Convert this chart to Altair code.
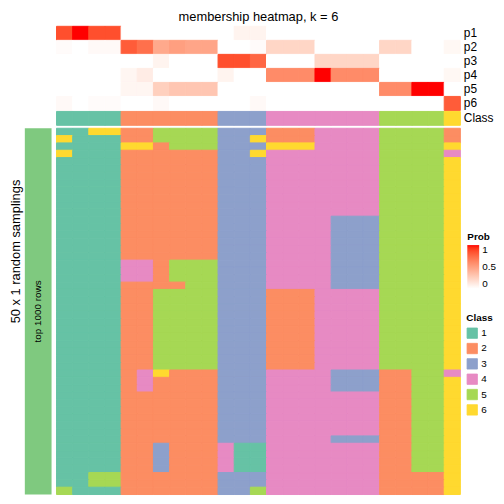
import altair as alt
import pandas as pd

TITLE = "membership heatmap, k = 6"
FONT = "Liberation Sans"

ROW_NAMES = ["p1", "p2", "p3", "p4", "p5", "p6"]
P1 = [0.85, 1.0, 0.85, 0.85, 0, 0, 0, 0, 0, 0, 0, 0.06, 0.06, 0, 0, 0, 0, 0, 0, 0, 0, 0, 0, 0, 0]
P2 = [0.02, 0, 0.03, 0.03, 0.8, 0.72, 0.45, 0.5, 0.47, 0.47, 0, 0, 0.02, 0.22, 0.22, 0.22, 0, 0, 0, 0, 0.22, 0.22, 0, 0, 0.04]
P3 = [0, 0, 0, 0, 0, 0, 0.06, 0, 0, 0, 0.85, 0.85, 0.76, 0, 0, 0, 0.22, 0.22, 0.22, 0.22, 0, 0, 0, 0, 0]
P4 = [0, 0, 0, 0, 0.05, 0.1, 0, 0, 0, 0, 0.06, 0, 0, 0.6, 0.6, 0.6, 1.0, 0.6, 0.6, 0.6, 0, 0, 0, 0, 0.04]
P5 = [0, 0, 0, 0, 0.05, 0.05, 0.25, 0.3, 0.3, 0.3, 0, 0, 0, 0, 0, 0, 0, 0, 0, 0, 0.6, 0.6, 1.0, 1.0, 0]
P6 = [0.03, 0, 0.02, 0.02, 0, 0, 0.03, 0, 0, 0, 0, 0, 0.03, 0, 0, 0, 0, 0, 0, 0, 0, 0, 0, 0, 0.8]

CLASS_ROW = [1, 1, 1, 1, 2, 2, 2, 2, 2, 2, 3, 3, 3, 4, 4, 4, 4, 4, 4, 4, 5, 5, 5, 5, 6]

SAMPLINGS = [
    "1166225555333222444455552",
    "6111225555336222444455552",
    "1111662555333666444455556",
    "6111222222336444444455554",
    "1111222222333444444455556",
    "1111222222333444444455556",
    "1111222222333444444455556",
    "1111222222333444444455556",
    "1111222222333444444455556",
    "1111222222333444444455556",
    "1111222222333444444455556",
    "1111222222333444444455556",
    "1111222222333444433355556",
    "1111222222333444433355556",
    "1111222222333444433355556",
    "1111222222333444433355556",
    "1111222222333444433355556",
    "1111222222333444433355556",
    "1111442555333444433355556",
    "1111442555333444433355556",
    "1111442555333444433355556",
    "1111222255333444433355556",
    "1111225555333222444455556",
    "1111225555333222444455556",
    "1111225555333222444455556",
    "1111225555333222444455556",
    "1111225555333222444455556",
    "1111225555333222444455556",
    "1111225555333222444455556",
    "1111225555333222444455556",
    "1111225555333222444455556",
    "1111225555333222444455556",
    "1111225555333222444455556",
    "1111246222333444433322554",
    "1111242222333444433322556",
    "1111242222333444433322556",
    "1111222222333444444422556",
    "1111222222333444444422556",
    "1111222222333444444422556",
    "1111222222333444444422556",
    "1111222222333444444422556",
    "1111222222333444444422556",
    "1111222222333444433322556",
    "1111223222411444444422556",
    "1111223222411444444422556",
    "1111223222411444444422556",
    "1111223222411444444422556",
    "1155222222333444444422226",
    "1155222222333444444422226",
    "5111222222335444444422226",
]

CLASS_LABELS = ["1", "2", "3", "4", "5", "6"]
CLASS_COLORS = ["#66C2A5", "#FC8D62", "#8DA0CB", "#E78AC3", "#A6D854", "#FFD92F"]
STRIP_COLOR = "#7FC97F"
STRIP_TEXT = "top 1000 rows"
Y_TITLE = "50 x 1 random samplings"

# ---- tables ----
prob_rows = []
for name, vals in zip(ROW_NAMES, [P1, P2, P3, P4, P5, P6]):
    for c, v in enumerate(vals):
        prob_rows.append({"row": name, "c": c, "v": v, "vs": v})
prob_df = pd.DataFrame(prob_rows)

class_df = pd.DataFrame({"c": list(range(len(CLASS_ROW))),
                         "cls": [str(v) for v in CLASS_ROW],
                         "lab": ["Class"] * len(CLASS_ROW)})
class_df["cs"] = class_df["cls"]

mat_rows = []
for r, s in enumerate(SAMPLINGS):
    for c, ch in enumerate(s):
        mat_rows.append({"r": r, "c": c, "cls": ch, "cs": ch})
mat_df = pd.DataFrame(mat_rows)

strip_df = pd.DataFrame({"s": [STRIP_TEXT]})

# ---- scales ----
band = alt.Scale(paddingInner=0, paddingOuter=0)
prob_scale = alt.Scale(domain=[0, 1], range=["#FFFFFF", "#FF0000"], interpolate="lab")
# same colours for the cell outlines (domain taken from the data, which also spans 0..1)
prob_stroke_scale = alt.Scale(range=["#FFFFFF", "#FF0000"], interpolate="lab")
cls_scale = alt.Scale(domain=CLASS_LABELS, range=CLASS_COLORS)
xcol = alt.X("c:O", axis=None, scale=band)
right_axis = alt.Axis(orient="right", title=None, ticks=False, domain=False,
                      labelFontSize=12, labelPadding=3, labelColor="black", labelFont=FONT)

W = 408
SW = 27

prob = alt.Chart(prob_df).mark_rect(strokeWidth=1).encode(
    x=xcol,
    y=alt.Y("row:O", sort=ROW_NAMES, scale=band, axis=right_axis),
    color=alt.Color("v:Q", scale=prob_scale, legend=alt.Legend(
        type="gradient",
        title="Prob", orient="none", legendX=415, legendY=208, direction="vertical",
        gradientLength=44, gradientThickness=12, gradientStrokeWidth=0,
        values=[0, 0.5, 1], format="~g",
        titleFontSize=10, titleFontWeight="bold", titleFont=FONT,
        labelFontSize=10, labelFont=FONT, titlePadding=3, labelOffset=3,
        titleColor="black", labelColor="black")),
    stroke=alt.Stroke("vs:Q", scale=prob_stroke_scale, legend=None),
).properties(width=W, height=85, title=alt.TitleParams(
    text=TITLE, fontSize=13, fontWeight="normal", anchor="middle", offset=2,
    font=FONT, color="black"))

class_chart = alt.Chart(class_df).mark_rect(strokeWidth=1).encode(
    x=xcol,
    y=alt.Y("lab:N", scale=band, axis=right_axis),
    color=alt.Color("cls:N", scale=cls_scale, legend=None),
    stroke=alt.Stroke("cs:N", scale=cls_scale, legend=None),
).properties(width=W, height=14)

matrix = alt.Chart(mat_df).mark_rect(strokeWidth=1).encode(
    x=xcol,
    y=alt.Y("r:O", scale=band, axis=None),
    color=alt.Color("cls:N", scale=cls_scale, legend=alt.Legend(
        title="Class", orient="none", legendX=414, legendY=187,
        symbolType="square", symbolSize=110, symbolStrokeWidth=0.8,
        symbolStrokeColor="#CCCCCC", rowPadding=1.5,
        titleFontSize=10, titleFontWeight="bold", titleFont=FONT,
        labelFontSize=10, labelFont=FONT, titlePadding=4, labelOffset=3,
        titleColor="black", labelColor="black")),
    stroke=alt.Stroke("cs:N", scale=cls_scale, legend=None),
).properties(width=W, height=370)

sbase = alt.Chart(strip_df).encode(
    x=alt.X("s:N", axis=None, scale=band),
    y=alt.Y("s:N", scale=band, axis=alt.Axis(
        title=Y_TITLE, labels=False, ticks=False, domain=False,
        titleFontSize=13, titleFontWeight="normal", titleFont=FONT,
        titleColor="black", titlePadding=2, titleY=124)),
)
strip = alt.layer(
    sbase.mark_rect(color=STRIP_COLOR),
    sbase.mark_text(angle=270, fontSize=10, font=FONT, color="black").encode(text="s:N"),
).properties(width=SW, height=370)


def spacer(w, h):
    return alt.Chart(strip_df).mark_rect(opacity=0).encode(
        x=alt.X("s:N", axis=None), y=alt.Y("s:N", axis=None)
    ).properties(width=w, height=h)


chart = alt.concat(
    spacer(SW, 85), prob,
    spacer(SW, 14), class_chart,
    spacer(SW, 1), spacer(W, 1),
    strip, matrix,
    columns=2,
    spacing=alt.RowColnumber(row=1, column=5),
    bounds="flush",
    padding=alt.Padding(top=0, left=2, right=0, bottom=0),
).resolve_scale(
    color="independent", stroke="independent", x="independent", y="independent"
).configure(font=FONT).configure_view(strokeWidth=0, stroke="transparent")

chart.save("out.html", embed_options={"renderer": "svg", "actions": False})
